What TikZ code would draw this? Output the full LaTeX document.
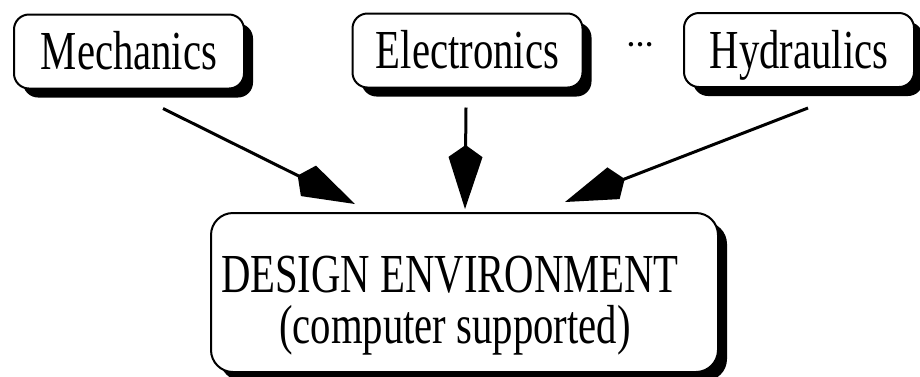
\documentclass[tikz,border=0pt]{standalone}
\usepackage{fontspec}
\setmainfont{Liberation Serif}
% condensed serif face for the box captions
\newfontfamily\boxfont[FakeStretch=0.74]{Liberation Serif}
\usetikzlibrary{arrows.meta,shadows}

\begin{document}
\begin{tikzpicture}[x=1pt,y=-1pt,
  box/.style={draw=black, line width=2pt, fill=white, rounded corners=15pt,
    drop shadow={shadow xshift=9pt, shadow yshift=-9pt, fill=black, opacity=1},
    inner sep=0pt, text height=36pt, text depth=0pt,
    minimum width=230pt, minimum height=74pt,
    font=\boxfont\fontsize{55}{62}\selectfont},
  envtext/.style={anchor=base, inner sep=0pt,
    font=\boxfont\fontsize{55}{62}\selectfont},
  feed/.style={line width=3pt,
    -{Kite[length=64pt,width=34pt,inset=12pt]}}
]
\useasboundingbox (0,0) rectangle (920,376);

% discipline boxes
\node[box] (mech) at (129,51.5) {Mechanics};
\node[box] (elec) at (467.5,50.5) {Electronics};
\node[box] (hydr) at (799,50) {Hydraulics};
\node[anchor=base, inner sep=0pt, font=\bfseries\fontsize{27}{30}\selectfont]
  (more) at (640,46) {…};

% common design environment
\node[box, rounded corners=22pt, minimum width=507pt, minimum height=159pt]
  (env) at (464.5,292.5) {};
\node[envtext] (envtitle) at (450,292) {DESIGN ENVIRONMENT};
\node[envtext] (envsub) at (455,343) {(computer supported)};

% contributions flowing into the environment
\draw[feed] ([shift={(34,19)}]mech.south) -- ([shift={(-109.5,-8)}]env.north);
\draw[feed] ([shift={(-1.5,19)}]elec.south) -- ([shift={(0.5,-3)}]env.north);
\draw[feed] ([shift={(9,20)}]hydr.south) -- ([shift={(100.5,-10)}]env.north);
\end{tikzpicture}
\end{document}
